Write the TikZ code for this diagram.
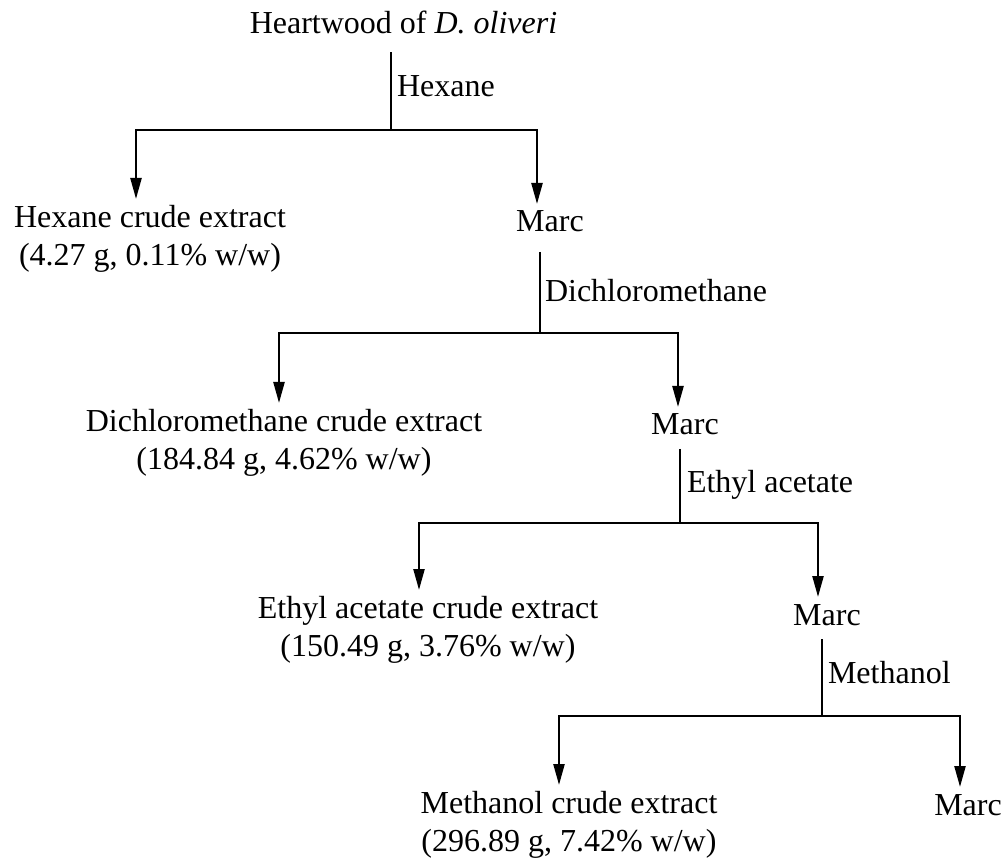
\documentclass[tikz,border=0pt]{standalone}
\usepackage{fontspec}
\setmainfont{Liberation Serif}
\usetikzlibrary{arrows.meta}
\begin{document}
\begin{tikzpicture}[x=1pt,y=-1pt,
  every node/.style={font=\fontsize{32}{38.5}\selectfont, inner sep=0pt, outer sep=0pt},
  ln/.style={line width=2.3pt},
  arr/.style={ln, shorten >=6pt, -{Triangle[length=21pt,width=11pt]}},
  down/.style={ln, shorten <=14pt},
  ext/.style={anchor=north, align=center},
  marcnode/.style={anchor=base, text height=22pt, text depth=0pt},
  solv/.style={anchor=base west}]
\useasboundingbox (0,0) rectangle (1002,858);

% level 1
\node[anchor=base] (title) at (403.5,34) {Heartwood of \textit{D. oliveri}};
\coordinate (j1) at (391,130);
\coordinate (a1) at (136,130);
\coordinate (b1) at (537,130);
\node[solv] (s1) at (397,97) {Hexane};
\node[ext] (hex) at (150,205) {Hexane crude extract\\(4.27 g, 0.11\% w/w)};
\node[marcnode] (m1) at (550,232) {Marc};
\draw[ln, shorten <=18pt] (title.south -| j1) -- (j1);
\draw[arr] (j1) -| (a1 |- hex.north);
\draw[arr] (j1) -| (b1 |- m1.north);

% level 2
\coordinate (j2) at (540,333);
\coordinate (a2) at (279,333);
\coordinate (b2) at (678,333);
\node[solv] (s2) at (545,302) {Dichloromethane};
\node[ext] (dcm) at (284,409) {Dichloromethane crude extract\\(184.84 g, 4.62\% w/w)};
\node[marcnode] (m2) at (685,435) {Marc};
\draw[ln, shorten <=20pt] (m1.south -| j2) -- (j2);
\draw[arr] (j2) -| (a2 |- dcm.north);
\draw[arr] (j2) -| (b2 |- m2.north);

% level 3
\coordinate (j3) at (680,523);
\coordinate (a3) at (419,523);
\coordinate (b3) at (818,523);
\node[solv] (s3) at (687,493) {Ethyl acetate};
\node[ext] (ea) at (428,596) {Ethyl acetate crude extract\\(150.49 g, 3.76\% w/w)};
\node[marcnode] (m3) at (827,625) {Marc};
\draw[down] (m2.south -| j3) -- (j3);
\draw[arr] (j3) -| (a3 |- ea.north);
\draw[arr] (j3) -| (b3 |- m3.north);

% level 4
\coordinate (j4) at (822,716);
\coordinate (a4) at (559,716);
\coordinate (b4) at (960,716);
\node[solv] (s4) at (828,683) {Methanol};
\node[ext] (meoh) at (569,791) {Methanol crude extract\\(296.89 g, 7.42\% w/w)};
\node[marcnode] (m4) at (968,815) {Marc};
\draw[down] (m3.south -| j4) -- (j4);
\draw[arr] (j4) -| (a4 |- meoh.north);
\draw[arr] (j4) -| (b4 |- m4.north);
\end{tikzpicture}
\end{document}
